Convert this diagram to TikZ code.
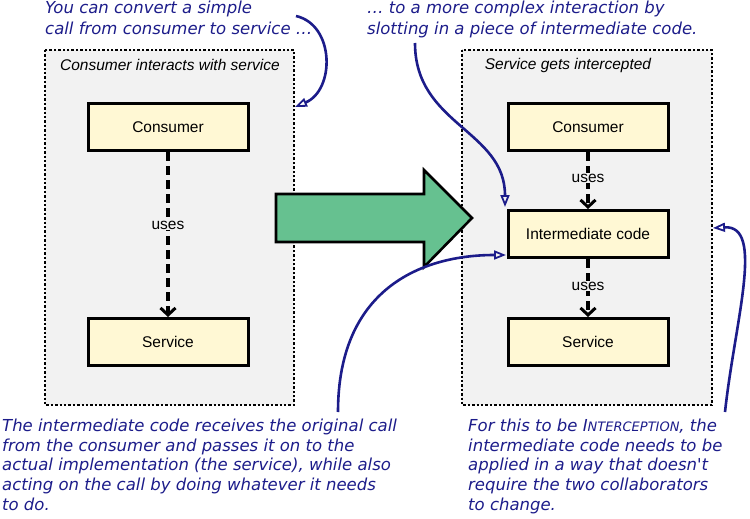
\documentclass[tikz,border=0pt]{standalone}
\usepackage{fontspec}
\setmainfont{Liberation Sans}
\newfontfamily\handfont{DejaVu Sans}
\usetikzlibrary{arrows.meta}
\definecolor{ink}{HTML}{1C1C8A}
\definecolor{paper}{HTML}{F2F2F2}
\definecolor{boxfill}{HTML}{FFF8D4}
\definecolor{arrowgreen}{HTML}{66C190}
\begin{document}
\begin{tikzpicture}[x=1pt, y=-1pt,
  panel/.style = {fill=paper, draw, line width=2.4pt, dash pattern=on 2.4pt off 2pt},
  part/.style = {draw, line width=3pt, fill=boxfill, minimum width=160pt, minimum height=47pt, font=\fontsize{15.5}{18}\selectfont},
  uses/.style = {line width=3.2pt, dash pattern=on 9pt off 5pt, -{Straight Barb[length=7pt,width=15pt,line width=3pt]}},
  usestext/.style = {fill=paper, inner sep=1pt, font=\fontsize{15.5}{18}\selectfont},
  title/.style = {font=\fontsize{15.5}{18}\selectfont\itshape},
  note/.style = {text=ink, align=left, anchor=north west, inner sep=0pt, font=\handfont\itshape\fontsize{16.5}{19.6}\selectfont},
  callout/.style = {ink, line width=2.6pt, -{Triangle[open, length=12pt, width=9pt, line width=1.8pt]}}]
\useasboundingbox (0,0) rectangle (750,519);
% panels
\draw[panel] (45,50) rectangle (294,405);
\draw[panel] (462,50) rectangle (712,405);
\draw(170,65) node[title] (lefttitle) {Consumer interacts with service};
\draw(568,65) node[title] (righttitle) {Service gets intercepted};
% before
\draw(168,127) node[part] (consumer) {Consumer};
\draw(168,342) node[part] (service) {Service};
\draw[uses] (consumer) -- (service);
\draw(168,225) node[usestext] {uses};
% after
\draw(588,127) node[part] (consumer2) {Consumer};
\draw(588,234) node[part] (intermediate) {Intermediate code};
\draw(588,342) node[part] (service2) {Service};
\draw[uses] (consumer2) -- (intermediate);
\draw(588,178) node[usestext] {uses};
\draw[uses] (intermediate) -- (service2);
\draw(588,286) node[usestext] {uses};
% big arrow
\draw[fill=arrowgreen, line width=2.6pt, line join=miter] (276,194) -- (424,194) -- (424,170) -- (472,218) -- (424,267) -- (424,242) -- (276,242) -- cycle;
% notes
\draw(45,1) node[note, font=\handfont\itshape\fontsize{16.5}{21}\selectfont] (note1) {You can convert a simple\\call from consumer to service \dots};
\draw(367,1) node[note, font=\handfont\itshape\fontsize{16.5}{21}\selectfont] (note2) {\dots{} to a more complex interaction by\\slotting in a piece of intermediate code.};
\draw(2,419) node[note] (note3) {The intermediate code receives the original call\\from the consumer and passes it on to the\\actual implementation (the service), while also\\acting on the call by doing whatever it needs\\to do.};
\draw(468,419) node[note] (note4) {For this to be I{\fontsize{13}{19.6}\selectfont NTERCEPTION}, the\\intermediate code needs to be\\applied in a way that doesn't\\require the two collaborators\\to change.};
% callouts
\coordinate (c1) at (296,16);
\coordinate (c2) at (415,43);
\coordinate (c3) at (338,412);
\coordinate (c4) at (725,412);
\coordinate (leftedge) at (295,107);
\coordinate (t2) at (505,207);
\coordinate (t3) at (506,255);
\coordinate (rightedge) at (713,228);
\draw[callout] (c1) .. controls (335,25) and (335,90) .. (leftedge);
\draw[callout] (c2) .. controls (415,125) and (505,130) .. (t2);
\draw[callout] (c3) .. controls (338,290) and (420,255) .. (t3);
\draw[callout] (c4) .. controls (735,320) and (765,225) .. (rightedge);
\end{tikzpicture}
\end{document}
